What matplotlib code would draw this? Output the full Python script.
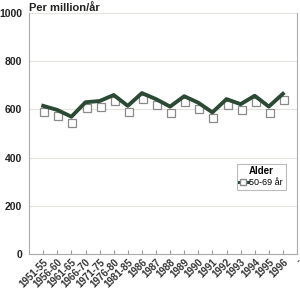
import matplotlib
matplotlib.use("Agg")
import matplotlib.pyplot as plt
import matplotlib.transforms as mtransforms
from matplotlib.lines import Line2D

plt.rcParams['font.family'] = ['Liberation Sans', 'DejaVu Sans']

periods = ['1951-55', '1956-60', '1961-65', '1966-70', '1971-75', '1976-80', '1981-85',
           '1986', '1987', '1988', '1989', '1990', '1991', '1992', '1993', '1994', '1995', '1996']
extra_label = ['-']
rate = [615, 598, 570, 630, 635, 660, 615, 668, 643, 612, 655, 628, 588, 643, 622, 657, 612, 665]
yticks = [0, 200, 400, 600, 800, 1000]

line_col = '#2c4a33'
box_col = '#8a8a8a'

fig = plt.figure(figsize=(3.0, 2.91), dpi=100)
ax = fig.add_axes([0.097, 0.127, 0.893, 0.828])

x = list(range(len(periods)))
# squares drawn a little below the line points
shift = mtransforms.ScaledTranslation(0.01, -0.06, fig.dpi_scale_trans)
ax.plot(x, rate, ls='none', marker='s', ms=6, mfc='white', mec=box_col, mew=0.9,
        transform=ax.transData + shift, zorder=2)
ax.plot(x, rate, color=line_col, lw=2.8, zorder=3)

ax.set_xlim(-1, len(periods))
ax.set_ylim(0, 1000)
ax.set_yticks(yticks)
ax.set_yticklabels([str(v) for v in yticks], fontsize=7.5, fontweight='bold', color='#222222')
ax.set_xticks(x + [len(periods)])
ax.set_xticklabels(periods + extra_label, rotation=45, ha='right', rotation_mode='anchor',
                   fontsize=7, fontweight='bold', color='#333333')
ax.tick_params(axis='x', direction='in', length=3, color='#999999', pad=2)
ax.tick_params(axis='y', length=0, pad=5)
ax.grid(axis='y', color='#e4e4dc', lw=0.8)
ax.set_axisbelow(True)
for s in ['left', 'bottom', 'right']:
    ax.spines[s].set_color('#aaaaaa')
    ax.spines[s].set_linewidth(0.8)
ax.spines['top'].set_visible(False)

fig.text(0.097, 0.988, 'Per million/år', fontsize=8, fontweight='bold', color='#222222',
         va='top', ha='left')

leg = ax.legend([Line2D([], [], color=line_col, lw=2.2, marker='s', ms=5, mfc='white',
                        mec=box_col)],
                ['50-69 år'], title='Alder', loc='upper left', bbox_to_anchor=(0.775, 0.375),
                fontsize=6.5, title_fontsize=7, frameon=True, fancybox=False,
                edgecolor='#aaaaaa', handlelength=0.9, handletextpad=0.2,
                borderpad=0.3, labelspacing=0.2, borderaxespad=0)
leg.get_title().set_fontweight('bold')
leg.get_frame().set_linewidth(0.8)

fig.savefig('out.png', dpi=100)
